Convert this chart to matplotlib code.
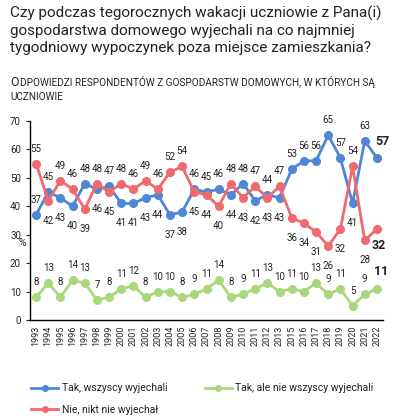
import numpy as np
import matplotlib
matplotlib.use("Agg")
import matplotlib.pyplot as plt
from matplotlib.lines import Line2D

plt.rcParams['font.family'] = ['Roboto', 'DejaVu Sans']

# data (no 2014 survey)
years = ['1993', '1994', '1995', '1996', '1997', '1998', '1999', '2000', '2001', '2002',
         '2003', '2004', '2005', '2006', '2007', '2008', '2009', '2010', '2011', '2012',
         '2013', '2015', '2016', '2017', '2018', '2019', '2020', '2021', '2022']
all_went = [37, 45, 43, 40, 48, 46, 47, 41, 41, 43, 44, 37, 38, 46, 45, 46, 44, 48, 42, 44,
            43, 53, 56, 56, 65, 57, 41, 63, 57]
some_went = [8, 13, 8, 14, 13, 7, 8, 11, 12, 8, 10, 10, 8, 9, 11, 14, 8, 9, 11, 13,
             10, 11, 10, 13, 9, 11, 5, 9, 11]
none_went = [55, 42, 49, 46, 39, 48, 45, 48, 46, 49, 46, 52, 54, 45, 44, 40, 48, 43, 47, 43,
             47, 36, 34, 31, 26, 32, 54, 28, 32]

names = ['Tak, wszyscy wyjechali', 'Tak, ale nie wszyscy wyjechali', 'Nie, nikt nie wyjechał']
blue = '#4f86d6'
green = '#a9d87c'
red = '#ef6a6e'
txt = '#222222'

W, H = 397, 420
fig = plt.figure(figsize=(W / 100, H / 100), dpi=100)
ax = fig.add_axes([30 / W, 1 - 320 / H, 353 / W, 199 / H])

x = np.arange(len(years))
ax.plot(x, all_went, color=blue, lw=2, marker='o', ms=5.5, zorder=3)
ax.plot(x, some_went, color=green, lw=2, marker='o', ms=5.5, zorder=3)
ax.plot(x, none_went, color=red, lw=2, marker='o', ms=5.5, zorder=3)

last = len(years) - 1


def label(xi, v, dy, bold=False, dx=0):
    ax.annotate(str(v), (xi, v), xytext=(dx, dy), textcoords='offset pixels',
                ha='center', va='center', fontsize=9 if bold else 7,
                fontweight='bold' if bold else 'normal', color=txt)


for i in range(last):
    b, r, g = all_went[i], none_went[i], some_went[i]
    b_up = b >= r or i == 0
    label(i, b, 15 if b_up else -20)
    label(i, r, 15 if (r > b or i == 0) else -20)
    label(i, g, 15)

label(last, all_went[last], 16, bold=True, dx=6)
label(last, none_went[last], -16, bold=True, dx=2)
label(last, some_went[last], 17, bold=True, dx=4)

ax.set_xlim(-0.5, len(years) - 0.5)
ax.set_ylim(0, 70)
ax.set_yticks(range(0, 71, 10))
ax.set_xticks(x)
ax.set_xticklabels(years, rotation=90, fontsize=6.5, color=txt)
ax.tick_params(axis='y', labelsize=7, colors=txt, length=3, width=0.8)
ax.tick_params(axis='x', length=0, pad=4)
for s in ['top', 'right']:
    ax.spines[s].set_visible(False)
for s in ['left', 'bottom']:
    ax.spines[s].set_color('black')
    ax.spines[s].set_linewidth(1)

fig.text(22 / W, 1 - 243 / H, '%', fontsize=7.5, color=txt, ha='center', va='center')

# title
title = ('Czy podczas tegorocznych wakacji uczniowie z Pana(i)\n'
         'gospodarstwa domowego wyjechali na co najmniej\n'
         'tygodniowy wypoczynek poza miejsce zamieszkania?')
fig.text(10 / W, 1 - 6 / H, title, fontsize=11, color=txt, ha='left', va='top', linespacing=1.25)

# subtitle in small caps
fig.text(10 / W, 1 - 82 / H, 'O', fontsize=8.8, color=txt, ha='left', va='center')
fig.text(20 / W, 1 - 82 / H, 'DPOWIEDZI RESPONDENTÓW Z GOSPODARSTW DOMOWYCH, W KTÓRYCH SĄ',
         fontsize=7.2, color=txt, ha='left', va='center')
fig.text(10 / W, 1 - 97 / H, 'UCZNIOWIE', fontsize=7.2, color=txt, ha='left', va='center')

handles = [Line2D([], [], color=c, lw=2, marker='o', ms=4) for c in (blue, green, red)]
fig.legend([handles[0], handles[2], handles[1]], [names[0], names[2], names[1]],
           ncol=2, loc='upper left', bbox_to_anchor=(22 / W, 1 - 374 / H), frameon=False,
           fontsize=7.5, handlelength=2.6, handletextpad=0.3, columnspacing=3.6,
           labelspacing=1.1, labelcolor=txt)

fig.savefig('out.png', dpi=100)
